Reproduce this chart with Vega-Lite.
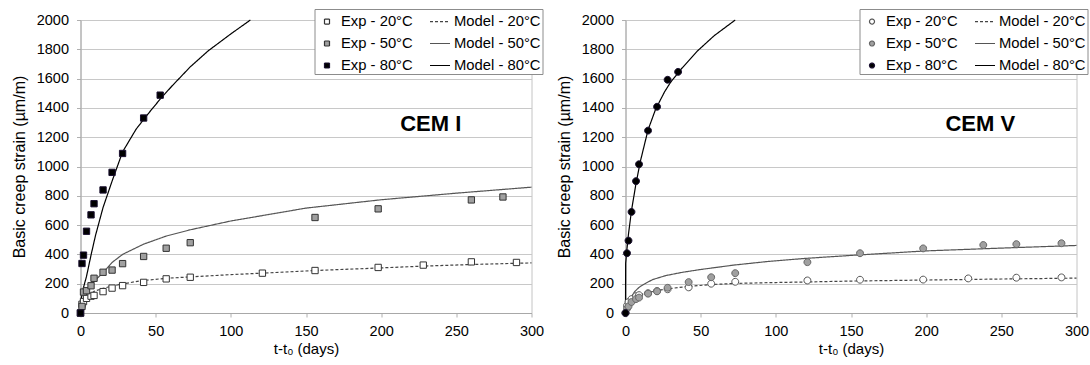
{
  "$schema": "https://vega.github.io/schema/vega-lite/v6.json",
  "background": "white",
  "padding": {"left": 10.5, "top": 8, "right": 0, "bottom": 0},
  "spacing": 94,
  "bounds": "flush",
  "resolve": {
    "scale": {"fill": "independent", "stroke": "independent", "shape": "independent", "strokeDash": "independent"},
    "legend": {"fill": "independent", "stroke": "independent", "shape": "independent", "strokeDash": "independent"}
  },
  "config": {
    "font": "Liberation Sans",
    "view": {"stroke": "#c4c4c4", "strokeWidth": 1},
    "axis": {
      "gridColor": "#c8c8c8",
      "domainColor": "#a8a8a8",
      "tickColor": "#b0b0b0",
      "tickSize": 4,
      "labelFontSize": 14.5,
      "labelColor": "#000",
      "labelFont": "Liberation Sans",
      "titleFont": "Liberation Sans",
      "titleFontWeight": "normal",
      "titleColor": "#000"
    },
    "legend": {
      "orient": "none",
      "legendX": 234,
      "legendY": -11,
      "columns": 2,
      "columnPadding": 14,
      "rowPadding": 4,
      "padding": 1.5,
      "fillColor": "white",
      "strokeColor": "#8c8c8c",
      "labelFontSize": 14.8,
      "labelFont": "Liberation Sans",
      "labelColor": "#000",
      "labelOffset": 3,
      "labelLimit": 300,
      "symbolSize": 400,
      "symbolStrokeWidth": 1.2
    }
  },
  "hconcat": [
    {
      "width": 451,
      "height": 293,
      "data": {
        "values": [
          {"kind": "Exp", "series": "Exp - 20°C", "t": 0, "strain": 0},
          {"kind": "Exp", "series": "Exp - 20°C", "t": 1, "strain": 60},
          {"kind": "Exp", "series": "Exp - 20°C", "t": 2, "strain": 78},
          {"kind": "Exp", "series": "Exp - 20°C", "t": 4, "strain": 100},
          {"kind": "Exp", "series": "Exp - 20°C", "t": 7, "strain": 115},
          {"kind": "Exp", "series": "Exp - 20°C", "t": 9, "strain": 120},
          {"kind": "Exp", "series": "Exp - 20°C", "t": 15, "strain": 146},
          {"kind": "Exp", "series": "Exp - 20°C", "t": 21, "strain": 170},
          {"kind": "Exp", "series": "Exp - 20°C", "t": 28, "strain": 187},
          {"kind": "Exp", "series": "Exp - 20°C", "t": 42, "strain": 209},
          {"kind": "Exp", "series": "Exp - 20°C", "t": 57, "strain": 233},
          {"kind": "Exp", "series": "Exp - 20°C", "t": 73, "strain": 244},
          {"kind": "Exp", "series": "Exp - 20°C", "t": 121, "strain": 272},
          {"kind": "Exp", "series": "Exp - 20°C", "t": 156, "strain": 290},
          {"kind": "Exp", "series": "Exp - 20°C", "t": 198, "strain": 311},
          {"kind": "Exp", "series": "Exp - 20°C", "t": 228, "strain": 327},
          {"kind": "Exp", "series": "Exp - 20°C", "t": 260, "strain": 349},
          {"kind": "Exp", "series": "Exp - 20°C", "t": 290, "strain": 345},
          {"kind": "Exp", "series": "Exp - 50°C", "t": 0, "strain": 0},
          {"kind": "Exp", "series": "Exp - 50°C", "t": 1, "strain": 45},
          {"kind": "Exp", "series": "Exp - 50°C", "t": 2, "strain": 143},
          {"kind": "Exp", "series": "Exp - 50°C", "t": 4, "strain": 152},
          {"kind": "Exp", "series": "Exp - 50°C", "t": 7, "strain": 186},
          {"kind": "Exp", "series": "Exp - 50°C", "t": 9, "strain": 237},
          {"kind": "Exp", "series": "Exp - 50°C", "t": 15, "strain": 278},
          {"kind": "Exp", "series": "Exp - 50°C", "t": 21, "strain": 293},
          {"kind": "Exp", "series": "Exp - 50°C", "t": 28, "strain": 337},
          {"kind": "Exp", "series": "Exp - 50°C", "t": 42, "strain": 386},
          {"kind": "Exp", "series": "Exp - 50°C", "t": 57, "strain": 442},
          {"kind": "Exp", "series": "Exp - 50°C", "t": 73, "strain": 480},
          {"kind": "Exp", "series": "Exp - 50°C", "t": 156, "strain": 652},
          {"kind": "Exp", "series": "Exp - 50°C", "t": 198, "strain": 711},
          {"kind": "Exp", "series": "Exp - 50°C", "t": 260, "strain": 772},
          {"kind": "Exp", "series": "Exp - 50°C", "t": 281, "strain": 792},
          {"kind": "Exp", "series": "Exp - 80°C", "t": 0, "strain": 0},
          {"kind": "Exp", "series": "Exp - 80°C", "t": 1, "strain": 338},
          {"kind": "Exp", "series": "Exp - 80°C", "t": 2, "strain": 395},
          {"kind": "Exp", "series": "Exp - 80°C", "t": 4, "strain": 558},
          {"kind": "Exp", "series": "Exp - 80°C", "t": 7, "strain": 670},
          {"kind": "Exp", "series": "Exp - 80°C", "t": 9, "strain": 746},
          {"kind": "Exp", "series": "Exp - 80°C", "t": 15, "strain": 840},
          {"kind": "Exp", "series": "Exp - 80°C", "t": 21, "strain": 960},
          {"kind": "Exp", "series": "Exp - 80°C", "t": 28, "strain": 1089},
          {"kind": "Exp", "series": "Exp - 80°C", "t": 42, "strain": 1331},
          {"kind": "Exp", "series": "Exp - 80°C", "t": 53, "strain": 1487},
          {"kind": "Model", "series": "Model - 20°C", "t": 0, "strain": 0},
          {"kind": "Model", "series": "Model - 20°C", "t": 0.5, "strain": 55},
          {"kind": "Model", "series": "Model - 20°C", "t": 2, "strain": 85},
          {"kind": "Model", "series": "Model - 20°C", "t": 4, "strain": 105},
          {"kind": "Model", "series": "Model - 20°C", "t": 9, "strain": 148},
          {"kind": "Model", "series": "Model - 20°C", "t": 15, "strain": 168},
          {"kind": "Model", "series": "Model - 20°C", "t": 21, "strain": 184},
          {"kind": "Model", "series": "Model - 20°C", "t": 30, "strain": 202},
          {"kind": "Model", "series": "Model - 20°C", "t": 40, "strain": 220},
          {"kind": "Model", "series": "Model - 20°C", "t": 57, "strain": 237},
          {"kind": "Model", "series": "Model - 20°C", "t": 74, "strain": 247},
          {"kind": "Model", "series": "Model - 20°C", "t": 100, "strain": 262},
          {"kind": "Model", "series": "Model - 20°C", "t": 121, "strain": 272},
          {"kind": "Model", "series": "Model - 20°C", "t": 156, "strain": 290},
          {"kind": "Model", "series": "Model - 20°C", "t": 198, "strain": 307},
          {"kind": "Model", "series": "Model - 20°C", "t": 228, "strain": 320},
          {"kind": "Model", "series": "Model - 20°C", "t": 260, "strain": 331},
          {"kind": "Model", "series": "Model - 20°C", "t": 300, "strain": 342},
          {"kind": "Model", "series": "Model - 50°C", "t": 0, "strain": 0},
          {"kind": "Model", "series": "Model - 50°C", "t": 1, "strain": 70},
          {"kind": "Model", "series": "Model - 50°C", "t": 3, "strain": 125},
          {"kind": "Model", "series": "Model - 50°C", "t": 6, "strain": 173},
          {"kind": "Model", "series": "Model - 50°C", "t": 10, "strain": 225},
          {"kind": "Model", "series": "Model - 50°C", "t": 15, "strain": 276},
          {"kind": "Model", "series": "Model - 50°C", "t": 21, "strain": 345},
          {"kind": "Model", "series": "Model - 50°C", "t": 28, "strain": 400},
          {"kind": "Model", "series": "Model - 50°C", "t": 42, "strain": 470},
          {"kind": "Model", "series": "Model - 50°C", "t": 57, "strain": 525},
          {"kind": "Model", "series": "Model - 50°C", "t": 73, "strain": 568},
          {"kind": "Model", "series": "Model - 50°C", "t": 100, "strain": 628},
          {"kind": "Model", "series": "Model - 50°C", "t": 150, "strain": 716},
          {"kind": "Model", "series": "Model - 50°C", "t": 200, "strain": 773},
          {"kind": "Model", "series": "Model - 50°C", "t": 250, "strain": 818},
          {"kind": "Model", "series": "Model - 50°C", "t": 300, "strain": 859},
          {"kind": "Model", "series": "Model - 80°C", "t": 0, "strain": 0},
          {"kind": "Model", "series": "Model - 80°C", "t": 0.5, "strain": 100},
          {"kind": "Model", "series": "Model - 80°C", "t": 2, "strain": 175},
          {"kind": "Model", "series": "Model - 80°C", "t": 4, "strain": 250},
          {"kind": "Model", "series": "Model - 80°C", "t": 7, "strain": 395},
          {"kind": "Model", "series": "Model - 80°C", "t": 10, "strain": 530},
          {"kind": "Model", "series": "Model - 80°C", "t": 15, "strain": 720},
          {"kind": "Model", "series": "Model - 80°C", "t": 21, "strain": 900},
          {"kind": "Model", "series": "Model - 80°C", "t": 28, "strain": 1100},
          {"kind": "Model", "series": "Model - 80°C", "t": 37, "strain": 1255},
          {"kind": "Model", "series": "Model - 80°C", "t": 45, "strain": 1360},
          {"kind": "Model", "series": "Model - 80°C", "t": 53, "strain": 1460},
          {"kind": "Model", "series": "Model - 80°C", "t": 61, "strain": 1551},
          {"kind": "Model", "series": "Model - 80°C", "t": 73, "strain": 1680},
          {"kind": "Model", "series": "Model - 80°C", "t": 85, "strain": 1790},
          {"kind": "Model", "series": "Model - 80°C", "t": 100, "strain": 1905},
          {"kind": "Model", "series": "Model - 80°C", "t": 113, "strain": 2000}
        ]
      },
      "encoding": {
        "x": {"field": "t", "type": "quantitative", "scale": {"domain": [0, 300], "nice": false},
          "axis": {"title": "t-t₀ (days)", "titleFontSize": 15, "titlePadding": 4, "grid": false, "values": [0, 50, 100, 150, 200, 250, 300], "labelFlush": false, "labelOverlap": false, "labelPadding": 7, "format": "d"}},
        "y": {"field": "strain", "type": "quantitative", "scale": {"domain": [0, 2000], "nice": false},
          "axis": {"title": "Basic creep strain (µm/m)", "titleFontSize": 16, "titlePadding": 9, "values": [0, 200, 400, 600, 800, 1000, 1200, 1400, 1600, 1800, 2000], "labelOverlap": false, "labelPadding": 8, "format": "d"}}
      },
      "layer": [
        {
          "transform": [{"filter": "datum.kind === 'Model'"}],
          "mark": {"type": "line", "strokeWidth": 1.2},
          "encoding": {
            "stroke": {"field": "series", "type": "nominal", "title": null,
              "scale": {"domain": ["Exp - 20°C", "Exp - 50°C", "Exp - 80°C", "Model - 20°C", "Model - 50°C", "Model - 80°C"],
                "range": ["#333333", "#333333", "#1a1030", "#444444", "#555555", "#000000"]}},
            "strokeDash": {"field": "series", "type": "nominal", "title": null,
              "scale": {"domain": ["Exp - 20°C", "Exp - 50°C", "Exp - 80°C", "Model - 20°C", "Model - 50°C", "Model - 80°C"],
                "range": [[1, 0], [1, 0], [1, 0], [3, 2], [1, 0], [1, 0]]}}
          }
        },
        {
          "transform": [{"filter": "datum.kind === 'Exp'"}],
          "mark": {"type": "point", "filled": true, "opacity": 1, "size": 640, "strokeWidth": 1},
          "encoding": {
            "stroke": {"field": "series", "type": "nominal", "title": null},
            "fill": {"field": "series", "type": "nominal", "title": null,
              "scale": {"domain": ["Exp - 20°C", "Exp - 50°C", "Exp - 80°C", "Model - 20°C", "Model - 50°C", "Model - 80°C"],
                "range": ["#ffffff", "#a0a0a0", "#000000", "transparent", "transparent", "transparent"]}},
            "shape": {"field": "series", "type": "nominal", "title": null,
              "scale": {"domain": ["Exp - 20°C", "Exp - 50°C", "Exp - 80°C", "Model - 20°C", "Model - 50°C", "Model - 80°C"],
                "range": ["M-0.25,-0.25H0.25V0.25H-0.25Z", "M-0.25,-0.25H0.25V0.25H-0.25Z", "M-0.25,-0.25H0.25V0.25H-0.25Z", "M-1,0H1", "M-1,0H1", "M-1,0H1"]}}
          }
        },
        {
          "data": {"values": [{"label": "CEM I", "t": 233, "strain": 1287}]},
          "mark": {"type": "text", "fontSize": 22, "fontWeight": "bold", "font": "Liberation Sans", "align": "center", "baseline": "middle", "color": "#000"},
          "encoding": {
            "text": {"field": "label"}
          }
        }
      ]
    },
    {
      "width": 451,
      "height": 293,
      "data": {
        "values": [
          {"kind": "Exp", "series": "Exp - 20°C", "t": 0, "strain": 0},
          {"kind": "Exp", "series": "Exp - 20°C", "t": 1, "strain": 50},
          {"kind": "Exp", "series": "Exp - 20°C", "t": 2, "strain": 75},
          {"kind": "Exp", "series": "Exp - 20°C", "t": 4, "strain": 95},
          {"kind": "Exp", "series": "Exp - 20°C", "t": 7, "strain": 115},
          {"kind": "Exp", "series": "Exp - 20°C", "t": 9, "strain": 122},
          {"kind": "Exp", "series": "Exp - 20°C", "t": 15, "strain": 135},
          {"kind": "Exp", "series": "Exp - 20°C", "t": 21, "strain": 150},
          {"kind": "Exp", "series": "Exp - 20°C", "t": 28, "strain": 162},
          {"kind": "Exp", "series": "Exp - 20°C", "t": 42, "strain": 175},
          {"kind": "Exp", "series": "Exp - 20°C", "t": 57, "strain": 200},
          {"kind": "Exp", "series": "Exp - 20°C", "t": 73, "strain": 213},
          {"kind": "Exp", "series": "Exp - 20°C", "t": 121, "strain": 222},
          {"kind": "Exp", "series": "Exp - 20°C", "t": 156, "strain": 227},
          {"kind": "Exp", "series": "Exp - 20°C", "t": 198, "strain": 228},
          {"kind": "Exp", "series": "Exp - 20°C", "t": 228, "strain": 236},
          {"kind": "Exp", "series": "Exp - 20°C", "t": 260, "strain": 241},
          {"kind": "Exp", "series": "Exp - 20°C", "t": 290, "strain": 243},
          {"kind": "Exp", "series": "Exp - 50°C", "t": 0, "strain": 0},
          {"kind": "Exp", "series": "Exp - 50°C", "t": 1, "strain": 30},
          {"kind": "Exp", "series": "Exp - 50°C", "t": 2, "strain": 45},
          {"kind": "Exp", "series": "Exp - 50°C", "t": 4, "strain": 75},
          {"kind": "Exp", "series": "Exp - 50°C", "t": 7, "strain": 95},
          {"kind": "Exp", "series": "Exp - 50°C", "t": 9, "strain": 105},
          {"kind": "Exp", "series": "Exp - 50°C", "t": 15, "strain": 132},
          {"kind": "Exp", "series": "Exp - 50°C", "t": 21, "strain": 148},
          {"kind": "Exp", "series": "Exp - 50°C", "t": 28, "strain": 172},
          {"kind": "Exp", "series": "Exp - 50°C", "t": 42, "strain": 211},
          {"kind": "Exp", "series": "Exp - 50°C", "t": 57, "strain": 244},
          {"kind": "Exp", "series": "Exp - 50°C", "t": 73, "strain": 272},
          {"kind": "Exp", "series": "Exp - 50°C", "t": 121, "strain": 347},
          {"kind": "Exp", "series": "Exp - 50°C", "t": 156, "strain": 408},
          {"kind": "Exp", "series": "Exp - 50°C", "t": 198, "strain": 441},
          {"kind": "Exp", "series": "Exp - 50°C", "t": 238, "strain": 464},
          {"kind": "Exp", "series": "Exp - 50°C", "t": 260, "strain": 470},
          {"kind": "Exp", "series": "Exp - 50°C", "t": 290, "strain": 476},
          {"kind": "Exp", "series": "Exp - 80°C", "t": 0, "strain": 0},
          {"kind": "Exp", "series": "Exp - 80°C", "t": 1, "strain": 408},
          {"kind": "Exp", "series": "Exp - 80°C", "t": 2, "strain": 494},
          {"kind": "Exp", "series": "Exp - 80°C", "t": 4, "strain": 690},
          {"kind": "Exp", "series": "Exp - 80°C", "t": 7, "strain": 900},
          {"kind": "Exp", "series": "Exp - 80°C", "t": 9, "strain": 1015},
          {"kind": "Exp", "series": "Exp - 80°C", "t": 15, "strain": 1245},
          {"kind": "Exp", "series": "Exp - 80°C", "t": 21, "strain": 1408},
          {"kind": "Exp", "series": "Exp - 80°C", "t": 28, "strain": 1592},
          {"kind": "Exp", "series": "Exp - 80°C", "t": 35, "strain": 1646},
          {"kind": "Model", "series": "Model - 20°C", "t": 0, "strain": 0},
          {"kind": "Model", "series": "Model - 20°C", "t": 1, "strain": 40},
          {"kind": "Model", "series": "Model - 20°C", "t": 2, "strain": 65},
          {"kind": "Model", "series": "Model - 20°C", "t": 5, "strain": 100},
          {"kind": "Model", "series": "Model - 20°C", "t": 10, "strain": 125},
          {"kind": "Model", "series": "Model - 20°C", "t": 15, "strain": 140},
          {"kind": "Model", "series": "Model - 20°C", "t": 21, "strain": 153},
          {"kind": "Model", "series": "Model - 20°C", "t": 28, "strain": 165},
          {"kind": "Model", "series": "Model - 20°C", "t": 42, "strain": 182},
          {"kind": "Model", "series": "Model - 20°C", "t": 57, "strain": 194},
          {"kind": "Model", "series": "Model - 20°C", "t": 73, "strain": 202},
          {"kind": "Model", "series": "Model - 20°C", "t": 100, "strain": 208},
          {"kind": "Model", "series": "Model - 20°C", "t": 121, "strain": 212},
          {"kind": "Model", "series": "Model - 20°C", "t": 150, "strain": 218},
          {"kind": "Model", "series": "Model - 20°C", "t": 200, "strain": 225},
          {"kind": "Model", "series": "Model - 20°C", "t": 250, "strain": 232},
          {"kind": "Model", "series": "Model - 20°C", "t": 300, "strain": 238},
          {"kind": "Model", "series": "Model - 50°C", "t": 0, "strain": 0},
          {"kind": "Model", "series": "Model - 50°C", "t": 1, "strain": 45},
          {"kind": "Model", "series": "Model - 50°C", "t": 3, "strain": 95},
          {"kind": "Model", "series": "Model - 50°C", "t": 6, "strain": 145},
          {"kind": "Model", "series": "Model - 50°C", "t": 9, "strain": 175},
          {"kind": "Model", "series": "Model - 50°C", "t": 12, "strain": 195},
          {"kind": "Model", "series": "Model - 50°C", "t": 18, "strain": 228},
          {"kind": "Model", "series": "Model - 50°C", "t": 27, "strain": 256},
          {"kind": "Model", "series": "Model - 50°C", "t": 38, "strain": 278},
          {"kind": "Model", "series": "Model - 50°C", "t": 50, "strain": 297},
          {"kind": "Model", "series": "Model - 50°C", "t": 72, "strain": 327},
          {"kind": "Model", "series": "Model - 50°C", "t": 95, "strain": 352},
          {"kind": "Model", "series": "Model - 50°C", "t": 120, "strain": 373},
          {"kind": "Model", "series": "Model - 50°C", "t": 150, "strain": 393},
          {"kind": "Model", "series": "Model - 50°C", "t": 200, "strain": 424},
          {"kind": "Model", "series": "Model - 50°C", "t": 250, "strain": 443},
          {"kind": "Model", "series": "Model - 50°C", "t": 300, "strain": 461},
          {"kind": "Model", "series": "Model - 80°C", "t": 0, "strain": 0},
          {"kind": "Model", "series": "Model - 80°C", "t": 0.1, "strain": 340},
          {"kind": "Model", "series": "Model - 80°C", "t": 1, "strain": 440},
          {"kind": "Model", "series": "Model - 80°C", "t": 2, "strain": 540},
          {"kind": "Model", "series": "Model - 80°C", "t": 4, "strain": 700},
          {"kind": "Model", "series": "Model - 80°C", "t": 7, "strain": 885},
          {"kind": "Model", "series": "Model - 80°C", "t": 10, "strain": 1040},
          {"kind": "Model", "series": "Model - 80°C", "t": 15, "strain": 1250},
          {"kind": "Model", "series": "Model - 80°C", "t": 20, "strain": 1390},
          {"kind": "Model", "series": "Model - 80°C", "t": 26, "strain": 1510},
          {"kind": "Model", "series": "Model - 80°C", "t": 30, "strain": 1575},
          {"kind": "Model", "series": "Model - 80°C", "t": 37, "strain": 1665},
          {"kind": "Model", "series": "Model - 80°C", "t": 48, "strain": 1790},
          {"kind": "Model", "series": "Model - 80°C", "t": 59, "strain": 1893},
          {"kind": "Model", "series": "Model - 80°C", "t": 73, "strain": 2000}
        ]
      },
      "encoding": {
        "x": {"field": "t", "type": "quantitative", "scale": {"domain": [0, 300], "nice": false},
          "axis": {"title": "t-t₀ (days)", "titleFontSize": 15, "titlePadding": 4, "grid": false, "values": [0, 50, 100, 150, 200, 250, 300], "labelFlush": false, "labelOverlap": false, "labelPadding": 7, "format": "d"}},
        "y": {"field": "strain", "type": "quantitative", "scale": {"domain": [0, 2000], "nice": false},
          "axis": {"title": "Basic creep strain (µm/m)", "titleFontSize": 16, "titlePadding": 9, "values": [0, 200, 400, 600, 800, 1000, 1200, 1400, 1600, 1800, 2000], "labelOverlap": false, "labelPadding": 8, "format": "d"}}
      },
      "layer": [
        {
          "transform": [{"filter": "datum.kind === 'Model'"}],
          "mark": {"type": "line", "strokeWidth": 1.2},
          "encoding": {
            "stroke": {"field": "series", "type": "nominal", "title": null,
              "scale": {"domain": ["Exp - 20°C", "Exp - 50°C", "Exp - 80°C", "Model - 20°C", "Model - 50°C", "Model - 80°C"],
                "range": ["#555555", "#666666", "#1a1030", "#444444", "#555555", "#000000"]}},
            "strokeDash": {"field": "series", "type": "nominal", "title": null,
              "scale": {"domain": ["Exp - 20°C", "Exp - 50°C", "Exp - 80°C", "Model - 20°C", "Model - 50°C", "Model - 80°C"],
                "range": [[1, 0], [1, 0], [1, 0], [3, 2], [1, 0], [1, 0]]}}
          }
        },
        {
          "transform": [{"filter": "datum.kind === 'Exp'"}],
          "mark": {"type": "point", "filled": true, "opacity": 1, "size": 760, "strokeWidth": 1},
          "encoding": {
            "stroke": {"field": "series", "type": "nominal", "title": null},
            "fill": {"field": "series", "type": "nominal", "title": null,
              "scale": {"domain": ["Exp - 20°C", "Exp - 50°C", "Exp - 80°C", "Model - 20°C", "Model - 50°C", "Model - 80°C"],
                "range": ["#ffffff", "#a0a0a0", "#000000", "transparent", "transparent", "transparent"]}},
            "shape": {"field": "series", "type": "nominal", "title": null,
              "scale": {"domain": ["Exp - 20°C", "Exp - 50°C", "Exp - 80°C", "Model - 20°C", "Model - 50°C", "Model - 80°C"],
                "range": ["M0.25,0A0.25,0.25,0,1,1,-0.25,0A0.25,0.25,0,1,1,0.25,0Z", "M0.25,0A0.25,0.25,0,1,1,-0.25,0A0.25,0.25,0,1,1,0.25,0Z", "M0.25,0A0.25,0.25,0,1,1,-0.25,0A0.25,0.25,0,1,1,0.25,0Z", "M-1,0H1", "M-1,0H1", "M-1,0H1"]}}
          }
        },
        {
          "data": {"values": [{"label": "CEM V", "t": 236, "strain": 1287}]},
          "mark": {"type": "text", "fontSize": 22, "fontWeight": "bold", "font": "Liberation Sans", "align": "center", "baseline": "middle", "color": "#000"},
          "encoding": {
            "text": {"field": "label"}
          }
        }
      ]
    }
  ]
}
